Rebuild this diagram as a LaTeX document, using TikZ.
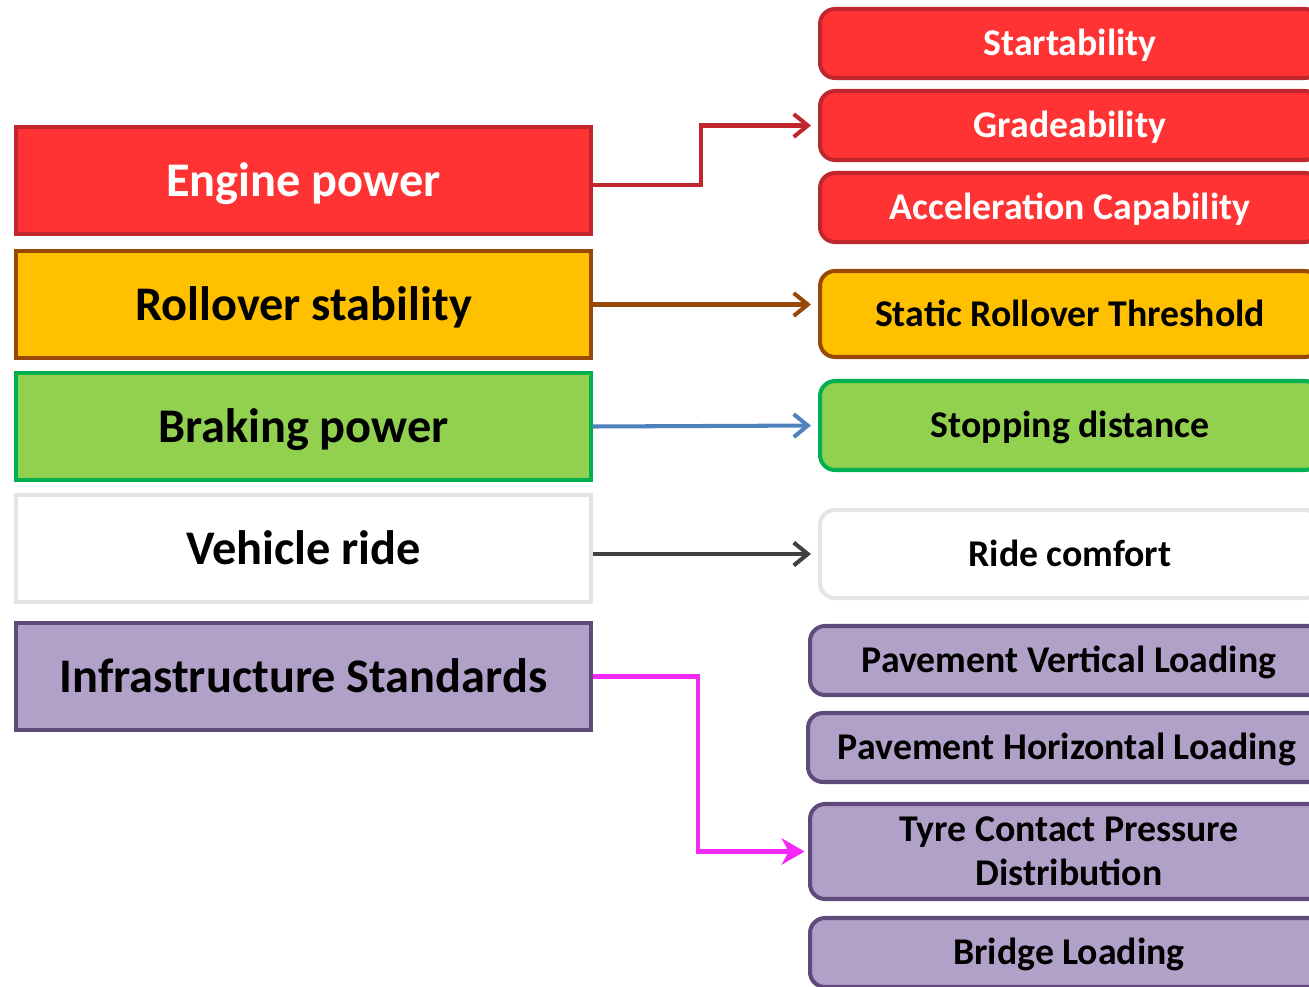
\documentclass[tikz,border=0pt]{standalone}
\usepackage{fontspec}
\setmainfont{Carlito}
\usetikzlibrary{arrows.meta, positioning}

\definecolor{redfill}{RGB}{255,51,51}
\definecolor{redline}{RGB}{192,39,45}
\definecolor{ambfill}{RGB}{255,192,0}
\definecolor{ambline}{RGB}{152,72,7}
\definecolor{grnfill}{RGB}{146,208,80}
\definecolor{grnline}{RGB}{0,176,80}
\definecolor{greyline}{RGB}{228,228,228}
\definecolor{purfill}{RGB}{177,160,199}
\definecolor{purline}{RGB}{96,74,123}
\definecolor{bluelink}{RGB}{79,129,189}
\definecolor{darklink}{RGB}{64,64,64}
\definecolor{maglink}{RGB}{245,40,245}

\begin{document}
\begin{tikzpicture}[x=0.02cm, y=-0.02cm,
    cat/.style={draw, line width=2.3pt, anchor=west, minimum width=11.5cm, minimum height=2.14cm,
      text height=18pt, text depth=0pt, font=\fontsize{27.5}{30}\selectfont\bfseries},
    item/.style={draw, line width=2.3pt, rounded corners=0.3cm, anchor=west, minimum width=10cm,
      minimum height=1.38cm, align=center, text height=14pt, text depth=0pt,
      font=\fontsize{21.5}{25}\selectfont\bfseries},
    link/.style={line width=2.3pt, -{Straight Barb[length=8pt,width=13pt]}, shorten >=4pt}]
  \useasboundingbox (0,0) rectangle (1309,987);
  \clip (0,0) rectangle (1309,987);

  % vehicle performance groups
  \node[cat, fill=redfill, draw=redline, text=white] (eng)   at (14,180.5) {Engine power};
  \node[cat, fill=ambfill, draw=ambline]             (roll)  at (14,304.5) {Rollover stability};
  \node[cat, fill=grnfill, draw=grnline]             (brake) at (14,426.5) {Braking power};
  \node[cat, fill=white,   draw=greyline]            (vride) at (14,548.5) {Vehicle ride};
  \node[cat, fill=purfill, draw=purline]             (infra) at (14,676.5) {Infrastructure Standards};

  % measures for each group
  \node[item, fill=redfill, draw=redline, text=white] (start) at (818,43.5)  {Startability};
  \node[item, fill=redfill, draw=redline, text=white] (grade) at (818,125.5) {Gradeability};
  \node[item, fill=redfill, draw=redline, text=white] (accel) at (818,207.5) {Acceleration Capability};
  \node[item, fill=ambfill, draw=ambline, minimum height=1.72cm] (srt)  at (818,314)   {Static Rollover Threshold};
  \node[item, fill=grnfill, draw=grnline, minimum height=1.78cm] (stop) at (818,425.5) {Stopping distance};
  \node[item, fill=white, draw=greyline, minimum height=1.76cm]  (comf) at (818,554)   {Ride comfort};
  \node[item, fill=purfill, draw=purline, minimum width=10.36cm] (pvl)   at (808,660.5) {Pavement Vertical Loading};
  \node[item, fill=purfill, draw=purline, minimum width=10.36cm] (phl)   at (806,747.5) {Pavement Horizontal Loading};
  \node[item, fill=purfill, draw=purline, minimum width=10.36cm, minimum height=1.9cm,
    text height={}, text depth={}] (tyre) at (808,851.5) {Tyre Contact Pressure\\Distribution};
  \node[item, fill=purfill, draw=purline, minimum width=10.36cm] (bridge) at (808,952.5) {Bridge Loading};

  % links
  \draw[link, redline] ([yshift=-2.5pt]eng.east) -- ++(108,0) |- (grade.west);
  \draw[link, ambline] (roll.east) -- (roll.east -| srt.west);
  \draw[link, bluelink] (brake.east) -- (stop.west);
  \draw[link, darklink] (vride.east |- comf.west) -- (comf.west);
  \draw[line width=2.3pt, maglink, -{Stealth[length=13pt,width=15pt,inset=4pt]}, shorten >=2pt]
    (infra.east) -- ++(105,0) |- (tyre.west);
\end{tikzpicture}
\end{document}
